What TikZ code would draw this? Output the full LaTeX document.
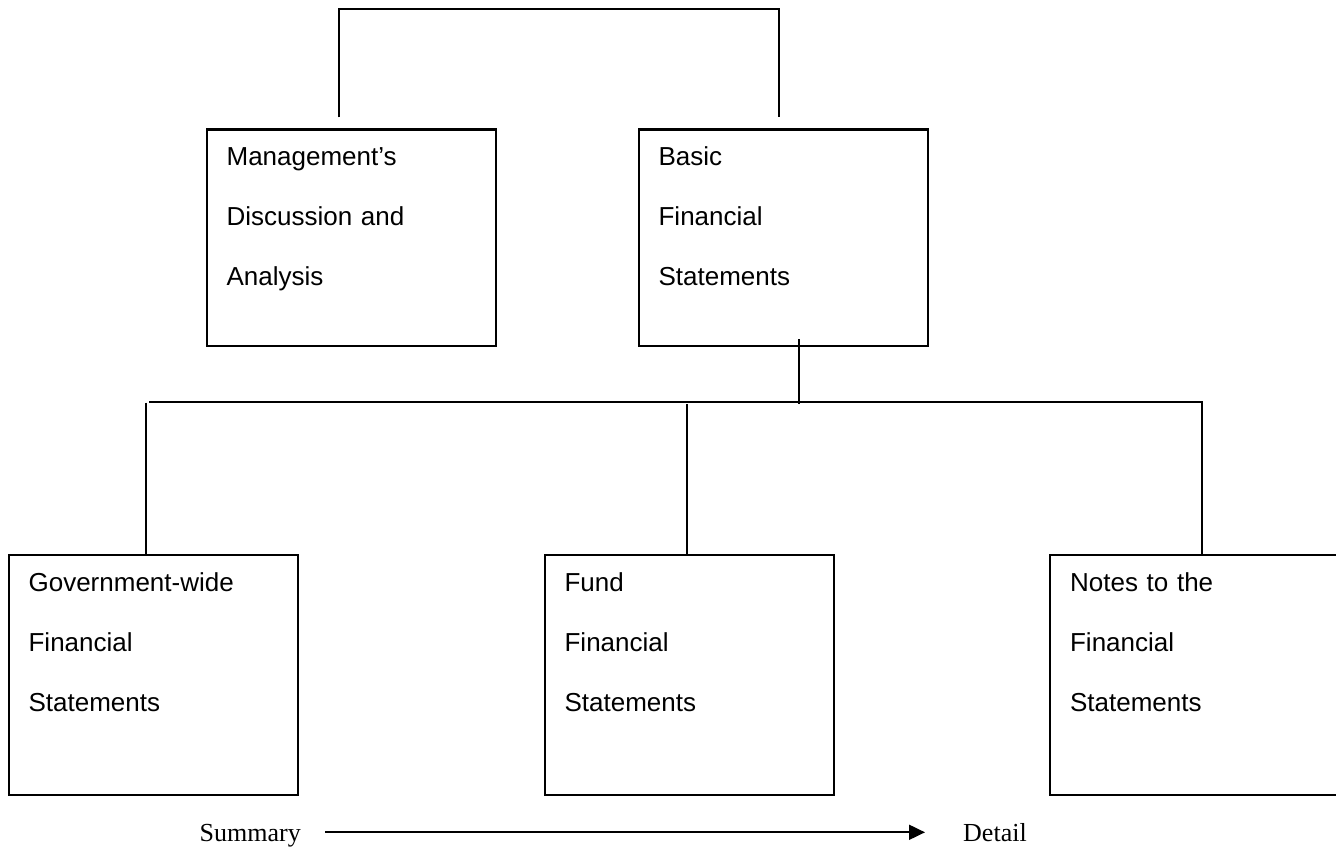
\documentclass[tikz,border=0pt]{standalone}
\usepackage{fontspec}
\setmainfont{Liberation Serif}
\newfontfamily\arialfont{Liberation Sans}
\usetikzlibrary{calc,arrows.meta}
\tikzset{
	box/.style={draw, line width=2.2pt, anchor=north west, inner sep=0pt, inner xsep=20pt,
		text width=249pt, align=left, text height=36pt,
		font=\arialfont\fontsize{26pt}{60pt}\selectfont},
	link/.style={line width=1.9pt},
	note/.style={anchor=base west, inner sep=0pt, font=\fontsize{26pt}{30pt}\selectfont}
}

\begin{document}
\begin{tikzpicture}[x=1pt, y=-1pt]
		%%%%% START %%%%%
		
		\path[use as bounding box, fill=white] (0, 0) rectangle (1336, 848);
		
		\node[box, text depth=180pt] (mda) at (205.5, 128.5) {Management’s\\Discussion and\\Analysis};
		\node[box, text depth=180pt] (bfs) at (637.5, 128.5) {Basic\\Financial\\Statements};
		
		\node[box, text depth=203.5pt] (gw) at (7.5, 554) {Government-wide\\Financial\\Statements};
		\node[box, text depth=203.5pt] (fund) at (543.5, 554) {Fund\\Financial\\Statements};
		\node[box, text depth=203.5pt] (notes) at (1049, 554) {Notes to the\\Financial\\Statements};
		
		\draw[link] ($(mda.north)+(-12.5,-11)$) -- ++(0, -108.5) -| ($(bfs.north)+(-4,-11)$);
		
		\draw[link] ($(bfs.south)+(16.3,-7.7)$) -- ++(0, 65);
		\draw[link] ($(gw.north)+(-3.7,-151.7)$) -| ($(notes.north)+(7.5,0)$);
		\draw[link] ($(gw.north)+(-7.3,-151.3)$) -- ($(gw.north)+(-7.3,0)$);
		\draw[link] ($(fund.north)+(-2,-150)$) -- ($(fund.north)+(-2,0)$);
		
		\node[note] (sum) at (199.5, 841.7) {Summary};
		\node[note] (det) at (963, 841.7) {Detail};
		\draw[link, -{Triangle[length=16pt,width=15pt]}] ($(sum.base east)+(24,-9.4)$) -- ($(det.base west)+(-38,-9.4)$);
		
		%%%%% END %%%%%
	\end{tikzpicture}
\end{document}
